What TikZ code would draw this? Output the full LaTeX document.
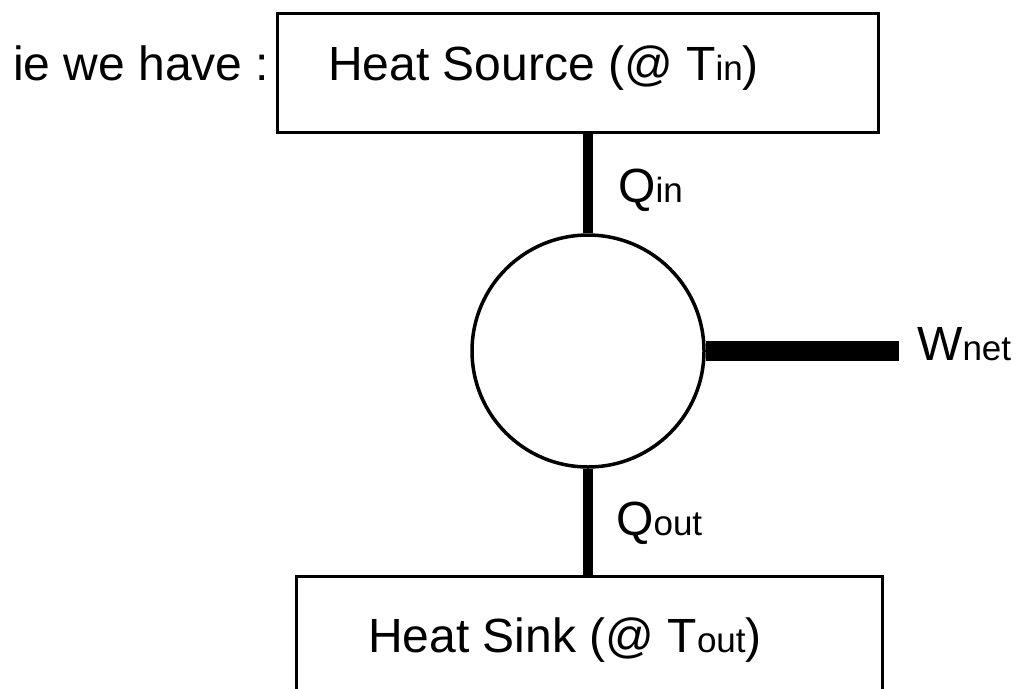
\documentclass[tikz,border=0pt]{standalone}
\usepackage{fontspec}
\setmainfont{Liberation Sans}
\newcommand{\mainsz}{\fontsize{48}{56}\selectfont}
\newcommand{\subsz}{\fontsize{35}{40}\selectfont}
\begin{document}
\begin{tikzpicture}[x=1pt,y=-1pt,
  box/.style={draw, line width=3pt, rectangle, inner sep=0pt},
  lbl/.style={inner sep=0pt, anchor=base west, font=\mainsz},
  engine/.style={draw, circle, line width=3.5pt, minimum size=232pt, inner sep=0pt},
  heat/.style={line width=10pt},
  work/.style={line width=20pt}]
\useasboundingbox (0,0) rectangle (1019,688);
\clip (0,0) rectangle (1019,688);
\node[box, minimum width=601pt, minimum height=119pt] (src) at (577.5,72.5) {};
\node[box, minimum width=586pt, minimum height=124pt] (sink) at (589,638) {};
\node[engine] (eng) at (588,351) {};
\coordinate (wend) at (899,351);
\draw[heat] (eng.north |- src.south) -- (eng.north);
\draw[heat] (eng.south) -- (eng.south |- sink.north);
\draw[work] (eng.east) -- (wend);
\node[lbl] (ie) at (13,80) {ie we have :};
\node[lbl] (srct) at (328,80) {Heat Source (@ T{\subsz in})};
\node[lbl] (sinkt) at (368,652) {Heat Sink (@ T{\subsz out})};
\node[lbl] (qin) at (618,202) {Q{\subsz in}};
\node[lbl] (qout) at (616,535) {Q{\subsz out}};
\node[lbl] (wnet) at (917,360) {W{\subsz net}};
\end{tikzpicture}
\end{document}
